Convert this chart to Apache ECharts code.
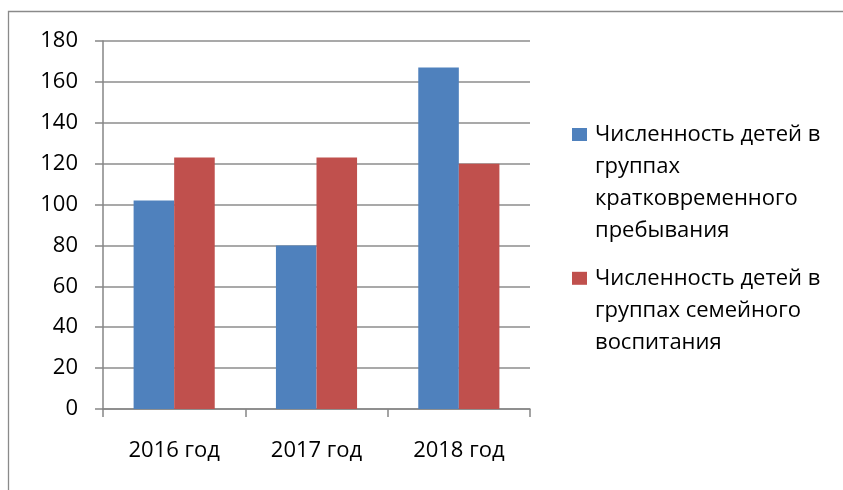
<!DOCTYPE html>
<html><head><meta charset="utf-8">
<script src="https://cdn.jsdelivr.net/npm/echarts@6/dist/echarts.min.js"></script>
<style>html,body{margin:0;padding:0;background:#fff}#c{width:843px;height:490px}</style>
</head><body><div id="c"></div>
<script>
const categories = ['2016 год', '2017 год', '2018 год'];
const seriesNames = [
  'Численность детей в\nгруппах\nкратковременного\nпребывания',
  'Численность детей в\nгруппах семейного\nвоспитания'
];
const shortTermValues = [102, 80, 167];
const familyValues = [123, 123, 120];
const yTicks = [0, 20, 40, 60, 80, 100, 120, 140, 160, 180];
const colors = ['#4F81BD', '#C0504D'];

const FONT = '"Open Sans", sans-serif';
const chart = echarts.init(document.getElementById('c'), null, {renderer: 'canvas'});
function legendFor(i, top) {
  return {
    data: [seriesNames[i]],
    orient: 'vertical', left: 572, top: top, padding: 0,
    itemWidth: 15, itemHeight: 13, icon: 'rect', itemGap: 0,
    selectedMode: false,
    formatter: name => '\n'.repeat(name.split('\n').length - 1) + name,
    textStyle: {fontFamily: FONT, fontSize: 22, lineHeight: 32, color: '#000', padding: [0, 0, 0, 3]}
  };
}
chart.setOption({
  animation: false,
  color: colors,
  graphic: [{type: 'rect', shape: {x: 8.5, y: 11.5, width: 900, height: 600},
    style: {fill: 'none', stroke: '#8a8a8a', lineWidth: 1.3}, silent: true}],
  grid: {left: 103, right: 313, top: 41, bottom: 81},
  legend: [legendFor(0, 22.5), legendFor(1, 198.3)],
  xAxis: {
    type: 'category', data: categories,
    axisLine: {lineStyle: {color: '#868686', width: 1.5}},
    axisTick: {show: true, length: 8, lineStyle: {color: '#868686', width: 1.5}},
    axisLabel: {fontFamily: FONT, fontSize: 22, color: '#000', margin: 31}
  },
  yAxis: {
    type: 'value', min: 0, max: 180, interval: 20,
    axisLine: {show: true, lineStyle: {color: '#868686', width: 1.5}},
    axisTick: {show: true, length: 8, lineStyle: {color: '#868686', width: 1.5}},
    splitLine: {lineStyle: {color: '#8c8c8c', width: 1.5}},
    axisLabel: {fontFamily: FONT, fontSize: 22, color: '#000', margin: 25,
      formatter: v => yTicks.includes(v) ? String(v) : ''}
  },
  series: [
    {name: seriesNames[0], type: 'bar', data: shortTermValues, barGap: '0%', barCategoryGap: '43%'},
    {name: seriesNames[1], type: 'bar', data: familyValues, barGap: '0%', barCategoryGap: '43%'}
  ]
});
</script></body></html>
